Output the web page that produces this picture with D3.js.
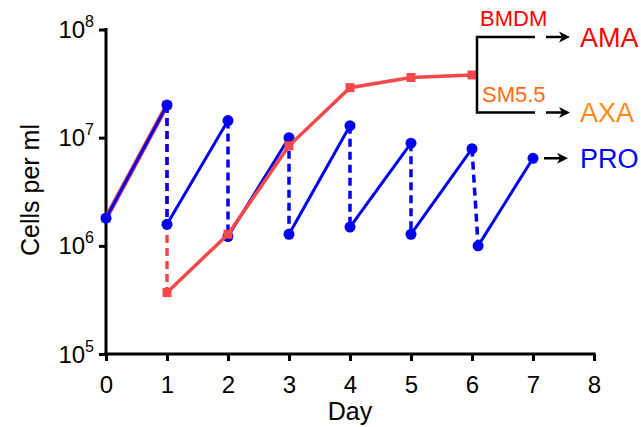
<!DOCTYPE html>
<html><head><meta charset="utf-8">
<script src="https://cdn.jsdelivr.net/npm/d3@7"></script>
<style>body{margin:0;background:#fff}svg{display:block;font-family:"Liberation Sans",Arial,sans-serif}</style>
</head><body><svg id="c" width="641" height="427"></svg>
<script>
// ---- data ----
const xTicks = [0,1,2,3,4,5,6,7,8];
const yTickExps = [5,6,7,8];
// AMA (red, BMDM) : before split and after split
const amaPreX = [0,1];
const amaPreY = [1.8e6, 2.0e7];
const amaX = [1,2,3,4,5,6];
const amaY = [3.7e5, 1.28e6, 8.4e6, 2.9e7, 3.6e7, 3.8e7];
// PRO (blue): growth segments start/end
const proStartX = [0,1,2,3,4,5,6.1];
const proStartY = [1.8e6, 1.58e6, 1.22e6, 1.28e6, 1.49e6, 1.28e6, 1.0e6];
const proEndX = [1,2,3,4,5,6,7];
const proEndY = [2.0e7, 1.44e7, 1.0e7, 1.29e7, 8.9e6, 7.9e6, 6.45e6];
const legendLabels = ["AMA","AXA","PRO"];
const bracketLabels = ["BMDM","SM5.5"];

const RED = "#f64848", BLUE = "#0000f5", ORANGE = "#ff8a1a", SMORANGE = "#ff6a10";

const svg = d3.select("#c");
const x = d3.scaleLinear().domain([0,8]).range([106,594]);
const y = d3.scaleLog().domain([1e5,1e8]).range([354,29.5]);

// axes
const xAxis = svg.append("g").attr("transform","translate(0,354)")
  .call(d3.axisBottom(x).tickValues(xTicks).tickSize(7).tickSizeOuter(0).tickFormat(d3.format("d")));
const yAxis = svg.append("g").attr("transform","translate(106,0)")
  .call(d3.axisLeft(y).tickValues(yTickExps.map(e=>Math.pow(10,e))).tickSize(7).tickSizeOuter(0).tickFormat(""));
[xAxis,yAxis].forEach(a=>{
  a.select(".domain").attr("stroke","#000").attr("stroke-width",3);
  a.selectAll(".tick line").attr("stroke","#000").attr("stroke-width",3);
});
xAxis.select(".domain").attr("d","M104.5,0H595.5");
yAxis.select(".domain").attr("d","M0,28H0V355.5");
xAxis.selectAll(".tick text").attr("font-size",24).attr("fill","#000").attr("dy",0).attr("y",39)
  .attr("font-family","Liberation Sans, Arial, sans-serif");
yAxis.selectAll(".tick").each(function(d,i){
  const t = d3.select(this).append("text").attr("x",-12).attr("y",8).attr("text-anchor","end")
    .attr("fill","#000").attr("font-size",24);
  t.append("tspan").text("10");
  t.append("tspan").attr("font-size",16).attr("dy",-11).text(yTickExps[i]);
});

svg.append("text").attr("transform","translate(39,190) rotate(-90)").attr("text-anchor","middle")
  .attr("font-size",25).text("Cells per ml");
svg.append("text").attr("x",350).attr("y",420).attr("text-anchor","middle").attr("font-size",25).text("Day");

const line = d3.line().x(d=>x(d[0])).y(d=>y(d[1]));
const sq = 9;

// red dashed split at day 1
svg.append("path").attr("d",line([[amaPreX[1],amaPreY[1]],[amaX[0],amaY[0]]]))
  .attr("stroke",RED).attr("stroke-width",3.5).attr("stroke-dasharray","8,5").attr("fill","none");
// red pre segment
svg.append("path").attr("d",line(amaPreX.map((v,i)=>[v,amaPreY[i]])))
  .attr("stroke",RED).attr("stroke-width",5).attr("fill","none");
svg.selectAll(".rsq0").data(amaPreX.map((v,i)=>[v,amaPreY[i]])).enter().append("rect")
  .attr("x",d=>x(d[0])-sq/2).attr("y",d=>y(d[1])-sq/2).attr("width",sq).attr("height",sq).attr("fill",RED);

// blue dashed drops
for(let i=0;i<proEndX.length-1;i++){
  svg.append("path").attr("d",line([[proEndX[i],proEndY[i]],[proStartX[i+1],proStartY[i+1]]]))
    .attr("stroke",BLUE).attr("stroke-width",3.5).attr("stroke-dasharray","8,5").attr("fill","none");
}
// blue growth segments
for(let i=0;i<proEndX.length;i++){
  svg.append("path").attr("d",line([[proStartX[i],proStartY[i]],[proEndX[i],proEndY[i]]]))
    .attr("stroke",BLUE).attr("stroke-width",3).attr("fill","none");
}
const bpts = proStartX.map((v,i)=>[v,proStartY[i]]).concat(proEndX.map((v,i)=>[v,proEndY[i]]));
svg.selectAll(".bc").data(bpts).enter().append("circle")
  .attr("cx",d=>x(d[0])).attr("cy",d=>y(d[1])).attr("r",5.5).attr("fill",BLUE);

// red post-split line
const ap = amaX.map((v,i)=>[v,amaY[i]]);
svg.append("path").attr("d",line(ap)).attr("stroke",RED).attr("stroke-width",3.5).attr("fill","none");
svg.selectAll(".rsq").data(ap).enter().append("rect")
  .attr("x",d=>x(d[0])-sq/2).attr("y",d=>y(d[1])-sq/2).attr("width",sq).attr("height",sq).attr("fill",RED);

// legend bracket
const last = ap[ap.length-1];
const bx = 477, yTop = 37, yBot = 112.5;
svg.append("line").attr("x1",x(last[0])).attr("x2",bx).attr("y1",y(last[1])).attr("y2",y(last[1]))
  .attr("stroke",RED).attr("stroke-width",3.5);
svg.append("path").attr("d",`M535,${yTop}H${bx}V${yBot}H535`).attr("stroke","#000").attr("stroke-width",2.5).attr("fill","none");
const proY = y(proEndY[proEndY.length-1]);
function arrow(x1,yy){
  svg.append("line").attr("x1",x1).attr("x2",x1+17).attr("y1",yy).attr("y2",yy).attr("stroke","#000").attr("stroke-width",2.5);
  const t = x1+24;
  svg.append("path").attr("d",`M${t},${yy}L${t-11},${yy-5.5}L${t-8},${yy}L${t-11},${yy+5.5}Z`).attr("fill","#000");
}
arrow(546,yTop); arrow(546,yBot); arrow(544,proY);
const legColors = [ "#ff0000", ORANGE, BLUE ];
[yTop,yBot,proY].forEach((yy,i)=>{
  svg.append("text").attr("x",580).attr("y",yy+9.5).attr("font-size",27).attr("fill",legColors[i]).text(legendLabels[i]);
});
svg.append("text").attr("x",480).attr("y",26).attr("font-size",22).attr("fill","#ff0000").text(bracketLabels[0]);
svg.append("text").attr("x",482).attr("y",101.5).attr("font-size",22).attr("fill",SMORANGE).text(bracketLabels[1]);
</script></body></html>
